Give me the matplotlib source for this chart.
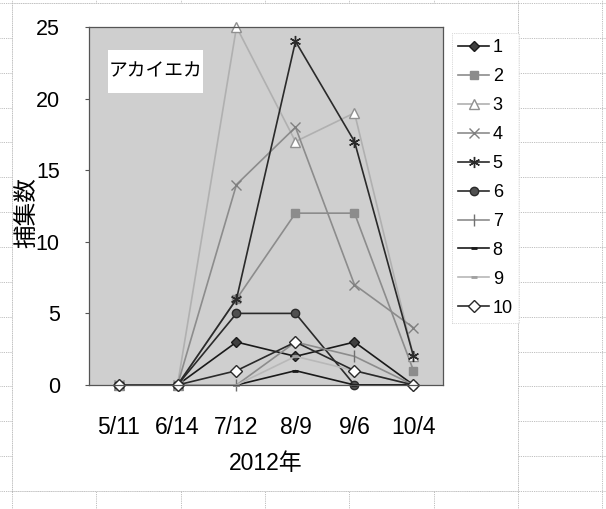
import matplotlib
matplotlib.use("Agg")
import matplotlib.pyplot as plt
from matplotlib.lines import Line2D
from matplotlib.patches import Rectangle

plt.rcParams['font.family'] = ['Liberation Sans', 'Noto Sans CJK JP', 'DejaVu Sans']

# survey dates and catches per trap
dates = ["5/11", "6/14", "7/12", "8/9", "9/6", "10/4"]
trap1 = [0, 0, 3, 2, 3, 0]
trap2 = [0, 0, 6, 12, 12, 1]
trap3 = [0, 0, 25, 17, 19, 2]
trap4 = [0, 0, 14, 18, 7, 4]
trap5 = [0, 0, 6, 24, 17, 2]
trap6 = [0, 0, 5, 5, 0, 0]
trap7 = [0, 0, 0, 3, 2, 0]
trap8 = [0, 0, 0, 1, 0, 0]
trap9 = [0, 0, 0, 2, 1, 0]
trap10 = [0, 0, 1, 3, 1, 0]
trap_names = ["1", "2", "3", "4", "5", "6", "7", "8", "9", "10"]
yticks = [0, 5, 10, 15, 20, 25]

series = [trap1, trap2, trap3, trap4, trap5, trap6, trap7, trap8, trap9, trap10]
styles = [
    dict(color="#1a1a1a", marker="D", ms=5.5, mfc="#404040", mec="#1a1a1a"),
    dict(color="#8c8c8c", marker="s", ms=5.5, mfc="#8c8c8c", mec="#8c8c8c"),
    dict(color="#b0b0b0", marker="^", ms=7, mfc="white", mec="#909090"),
    dict(color="#8c8c8c", marker="x", ms=7, mfc="none", mec="#808080", mew=1.0),
    dict(color="#2a2a2a", marker=(6, 2, 0), ms=8, mfc="none", mec="#2a2a2a", mew=1.0),
    dict(color="#2a2a2a", marker="o", ms=6, mfc="#505050", mec="#2a2a2a"),
    dict(color="#8c8c8c", marker="|", ms=8, mfc="none", mec="#707070", mew=1.0),
    dict(color="#1a1a1a", marker="_", ms=5, mfc="none", mec="#1a1a1a", mew=2.0),
    dict(color="#b8b8b8", marker="_", ms=5, mfc="none", mec="#a0a0a0", mew=2.0),
    dict(color="#2a2a2a", marker="D", ms=6, mfc="white", mec="#2a2a2a"),
]

W, H = 606, 509
fig = plt.figure(figsize=(W / 100, H / 100), dpi=100)
fig.patch.set_facecolor("white")

# spreadsheet cell grid behind the chart object
grid_kw = dict(color="#a8a8a8", lw=0.6, ls=(0, (1, 1.2)), transform=fig.transFigure, zorder=0)
for k in range(15):
    y = 3 + 34.85 * k
    fig.add_artist(Line2D([0, 1], [1 - y / H, 1 - y / H], **grid_kw))
for k in range(8):
    x = 12 + 84.3 * k
    fig.add_artist(Line2D([x / W, x / W], [0, 1], **grid_kw))
fig.add_artist(Rectangle((12 / W, 1 - 491 / H), (518 - 12) / W, (491 - 3) / H,
                         transform=fig.transFigure, facecolor="white",
                         edgecolor="#b0b0b0", lw=0.6, ls=(0, (1, 1.2)), zorder=1))

ax = fig.add_axes([89 / W, 1 - 385 / H, (443 - 89) / W, (385 - 27) / H], zorder=2)
ax.set_facecolor("#cfcfcf")
for s in ax.spines.values():
    s.set_color("#555555")
    s.set_linewidth(0.9)

x = list(range(len(dates)))
for vals, name, st in zip(series, trap_names, styles):
    ax.plot(x, vals, lw=1.2, label=name, clip_on=False, **st)

ax.set_xlim(-0.5, len(dates) - 0.5)
ax.set_ylim(0, 25)
ax.set_xticks(x)
ax.set_xticklabels(dates, fontsize=16.5)
ax.set_yticks(yticks)
ax.set_yticklabels([str(v) for v in yticks], fontsize=15.5)
ax.tick_params(axis="x", length=0, pad=22)
ax.tick_params(axis="y", length=3, pad=18, color="#555555")

fig.text(266 / W, 1 - 463 / H, "2012年", ha="center", va="center", fontsize=16.5)
fig.text(27 / W, 1 - 213 / H, "捕集数", ha="center", va="center", rotation=90, fontsize=17)

# caption box in the plot corner
fig.add_artist(Rectangle((108 / W, 1 - 93 / H), (203 - 108) / W, (93 - 50) / H,
                         transform=fig.transFigure, facecolor="white",
                         edgecolor="none", zorder=4))
fig.text(155.5 / W, 1 - 72 / H, "アカイエカ", ha="center", va="center",
         fontsize=13.5, zorder=5)

leg = fig.legend(loc="upper left", bbox_to_anchor=(452 / W, 1 - 33 / H),
                 fontsize=13, handlelength=1.7, handletextpad=0.2,
                 labelspacing=0.66, borderpad=0.35, borderaxespad=0,
                 frameon=True, fancybox=False)
leg.get_frame().set_edgecolor("#c0c0c0")
leg.get_frame().set_linestyle((0, (1, 1.2)))
leg.get_frame().set_linewidth(0.6)

fig.savefig("out.png", dpi=100)
